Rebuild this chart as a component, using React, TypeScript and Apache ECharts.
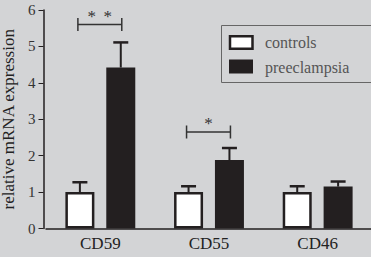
import React, { useEffect, useRef } from "react";
import * as echarts from "echarts";

const categories = ["CD59", "CD55", "CD46"];
const seriesNames = ["controls", "preeclampsia"];
const controlsMean = [1.0, 1.0, 1.0];
const controlsErr = [0.27, 0.16, 0.16];
const preMean = [4.42, 1.88, 1.15];
const preErr = [0.69, 0.33, 0.14];
const yTicks = [0, 1, 2, 3, 4, 5, 6];
const brackets = [
  { cat: 0, y: 5.6, label: "* *" },
  { cat: 1, y: 2.65, label: "*" },
];

const FONT = "Liberation Serif";
const DARK = "#231f20";
const BAR_W = 29;
const GAP = 0.41;

function barOffset(which: number) {
  const total = BAR_W * 2 + BAR_W * GAP;
  return -total / 2 + BAR_W / 2 + which * (BAR_W + BAR_W * GAP);
}

function errSeries(means: number[], errs: number[], which: number) {
  return {
    type: "custom",
    z: 5,
    data: means.map((m, i) => [i, m, errs[i]]),
    encode: { x: 0, y: 1 },
    renderItem: (params: any, api: any) => {
      const i = api.value(0);
      const m = api.value(1);
      const e = api.value(2);
      const base = api.coord([i, m]);
      const top = api.coord([i, m + e]);
      const x = base[0] + barOffset(which);
      return {
        type: "group",
        children: [
          {
            type: "line",
            shape: { x1: x, y1: base[1], x2: x, y2: top[1] },
            style: { stroke: DARK, lineWidth: 2 },
          },
          {
            type: "line",
            shape: { x1: x - 7.5, y1: top[1], x2: x + 7.5, y2: top[1] },
            style: { stroke: DARK, lineWidth: 2.5 },
          },
        ],
      };
    },
  };
}

export default function App() {
  const ref = useRef<HTMLDivElement>(null);
  useEffect(() => {
    if (!ref.current) return;
    const chart = echarts.init(ref.current, undefined, { renderer: "svg" });
    const legendFill = ["#ffffff", DARK];
    chart.setOption({
      animation: false,
      backgroundColor: "#d3d4d6",
      textStyle: { fontFamily: FONT },
      grid: { left: 46, right: -1, top: 10, bottom: 28.5, outerBoundsMode: "none", containLabel: false },
      graphic: [
        {
          type: "group",
          left: 219,
          top: 23,
          children: [
            {
              type: "rect",
              shape: { x: 0.5, y: 0.5, width: 170, height: 57 },
              style: { fill: "none", stroke: "#666", lineWidth: 1 },
            },
            ...seriesNames.flatMap((name, k) => [
              {
                type: "rect",
                shape: k === 0
                  ? { x: 9, y: 11.25 + k * 24.5, width: 22.5, height: 12.5 }
                  : { x: 8, y: 10 + k * 24.5, width: 24, height: 14 },
                style: k === 0
                  ? { fill: legendFill[k], stroke: DARK, lineWidth: 2.5 }
                  : { fill: legendFill[k] },
              },
              {
                type: "text",
                x: 44,
                y: 17.5 + k * 24.5,
                style: {
                  text: name,
                  font: "16px 'Liberation Serif', serif",
                  fill: "#555",
                  verticalAlign: "middle",
                },
              },
            ]),
          ],
        },
      ],
      xAxis: {
        type: "category",
        data: categories,
        axisLine: { lineStyle: { color: DARK, width: 1.5 } },
        axisTick: { alignWithLabel: true, length: 4, lineStyle: { color: DARK } },
        axisLabel: { fontFamily: FONT, fontSize: 17, color: "#222", margin: 6 },
      },
      yAxis: {
        type: "value",
        min: yTicks[0],
        max: yTicks[yTicks.length - 1],
        interval: 1,
        offset: 2.5,
        name: "relative mRNA expression",
        nameLocation: "middle",
        nameGap: 27,
        nameTextStyle: { fontFamily: FONT, fontSize: 17, color: "#222" },
        axisLine: { show: true, lineStyle: { color: DARK, width: 1.5 } },
        axisTick: { show: true, length: 5, lineStyle: { color: DARK } },
        axisLabel: { fontFamily: FONT, fontSize: 15, color: "#333", margin: 8 },
        splitLine: { show: false },
      },
      series: [
        {
          name: seriesNames[0],
          type: "bar",
          data: controlsMean,
          barWidth: BAR_W,
          barGap: GAP * 100 + "%",
          itemStyle: { color: "#fff", borderColor: DARK, borderWidth: 2.5 },
        },
        {
          name: seriesNames[1],
          type: "bar",
          data: preMean,
          barWidth: BAR_W,
          itemStyle: { color: DARK },
        },
        errSeries(controlsMean, controlsErr, 0),
        errSeries(preMean, preErr, 1),
        {
          type: "custom",
          z: 6,
          data: brackets.map((b) => [b.cat, b.y]),
          encode: { x: 0, y: 1 },
          renderItem: (params: any, api: any) => {
            const i = api.value(0);
            const y = api.value(1);
            const stars = brackets[params.dataIndex].label.split(" ");
            const p = api.coord([i, y]);
            const x1 = p[0] + barOffset(0) - 2;
            const x2 = p[0] + barOffset(1) + 1;
            const mid = (x1 + x2) / 2;
            const children: any[] = [
              { type: "line", shape: { x1, y1: p[1], x2, y2: p[1] }, style: { stroke: "#333", lineWidth: 1.5 } },
              { type: "line", shape: { x1, y1: p[1] - 6.5, x2: x1, y2: p[1] + 6.5 }, style: { stroke: "#333", lineWidth: 1.5 } },
              { type: "line", shape: { x1: x2, y1: p[1] - 6.5, x2, y2: p[1] + 6.5 }, style: { stroke: "#333", lineWidth: 1.5 } },
            ];
            stars.forEach((s, k) => {
              children.push({
                type: "text",
                x: mid + (k - (stars.length - 1) / 2) * 16,
                y: p[1],
                style: {
                  text: s,
                  font: "17px 'Liberation Serif', serif",
                  fill: "#333",
                  align: "center",
                  verticalAlign: "bottom",
                },
              });
            });
            return { type: "group", children };
          },
        },
      ],
    });
    return () => chart.dispose();
  }, []);
  return <div ref={ref} style={{ width: 371, height: 257, position: "absolute", left: 0, top: 0 }} />;
}
